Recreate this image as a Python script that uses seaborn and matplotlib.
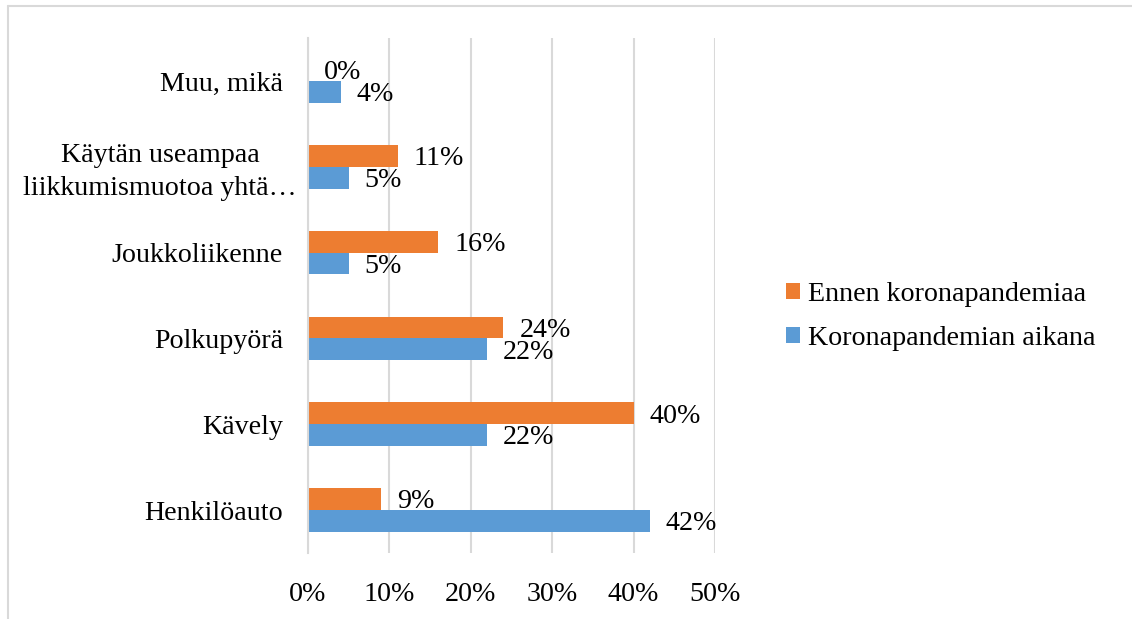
import numpy as np
import pandas as pd
import matplotlib
matplotlib.use("Agg")
import matplotlib.pyplot as plt
import matplotlib.transforms as mtransforms
from matplotlib.patches import Patch
from matplotlib.lines import Line2D
import seaborn as sns

# Kulkumuodot ja osuudet (%)
kategoriat = [
    "Muu, mikä",
    "Käytän useampaa\nliikkumismuotoa yhtä…",
    "Joukkoliikenne",
    "Polkupyörä",
    "Kävely",
    "Henkilöauto",
]
sarjat = ["Ennen koronapandemiaa", "Koronapandemian aikana"]
ennen = [0, 11, 16, 24, 40, 9]
aikana = [4, 5, 5, 22, 22, 42]
x_tikit = [0, 10, 20, 30, 40, 50]
varit = ["#ED7D31", "#5B9BD5"]

df = pd.DataFrame({
    "kategoria": kategoriat * 2,
    "osuus": ennen + aikana,
    "ajankohta": [sarjat[0]] * len(kategoriat) + [sarjat[1]] * len(kategoriat),
})

FS = 20.2

sns.set_theme(style="white")
plt.rcParams["font.family"] = ["Liberation Serif", "DejaVu Serif"]
plt.rcParams["font.size"] = FS
plt.rcParams["text.color"] = "black"
plt.rcParams["xtick.labelcolor"] = "black"
plt.rcParams["ytick.labelcolor"] = "black"

fig = plt.figure(figsize=(11.32, 6.19), dpi=100)
ax = fig.add_axes([308 / 1132, 1 - 553 / 619, (715 - 308) / 1132, (553 - 38) / 619])

sns.barplot(
    data=df, y="kategoria", x="osuus", hue="ajankohta",
    order=kategoriat, hue_order=sarjat, palette=varit,
    orient="h", width=0.51, saturation=1, ax=ax, legend=False,
    linewidth=0,
)

for cont in ax.containers:
    teksti = ax.bar_label(cont, fmt="{:.0f}%", padding=11.5, fontsize=FS, color="black")
    for t in teksti:
        t.xyann = (11.5, -2)

ax.set_xlim(0, 50)
ax.set_ylim(len(kategoriat) - 0.5, -0.5)
ax.set_xticks(x_tikit)
ax.set_xticklabels([f"{t}%" for t in x_tikit])
ax.set_xlabel("")
ax.set_ylabel("")

ax.grid(axis="x", color="#D9D9D9", linewidth=1.5)
ax.grid(axis="y", visible=False)
ax.set_axisbelow(True)

for s in ["top", "right", "bottom"]:
    ax.spines[s].set_visible(False)
ax.spines["left"].set_color("#D9D9D9")
ax.spines["left"].set_linewidth(1.5)

ax.tick_params(axis="x", length=0, pad=21, labelsize=FS, labelcolor="black")
ax.tick_params(axis="y", which="major", length=0, pad=18, labelsize=FS, labelcolor="black")
ax.set_yticks(np.arange(-0.5, len(kategoriat), 1.0), minor=True)
ax.tick_params(axis="y", which="minor", length=5, width=1.5, color="#D9D9D9")
for lab in ax.get_yticklabels():
    lab.set_multialignment("center")
    lab.set_linespacing(1.42)
    if "\n" in lab.get_text():
        # kaksirivinen nimi hieman oikealle, ellipsi lähes akselille asti
        lab.set_transform(lab.get_transform() +
                          mtransforms.ScaledTranslation(14 / 100, 2 / 100, fig.dpi_scale_trans))

handles = [Patch(facecolor=c, edgecolor="none") for c in varit]
ax.legend(
    handles, sarjat, loc="center left",
    bbox_to_anchor=(786 / 1132, 1 - 316.5 / 619), bbox_transform=fig.transFigure,
    frameon=False, fontsize=FS, handlelength=0.5, handleheight=0.5,
    handletextpad=0.3, labelspacing=0.7, borderpad=0, borderaxespad=0,
)

# Kuvion reunaviivat (ylä ja vasen)
fig.add_artist(Line2D([8 / 1132, 8 / 1132], [0, 1 - 6 / 619],
                      transform=fig.transFigure, color="#D9D9D9", lw=1.5))
fig.add_artist(Line2D([8 / 1132, 1], [1 - 6 / 619, 1 - 6 / 619],
                      transform=fig.transFigure, color="#D9D9D9", lw=1.5))

fig.savefig("out.png", dpi=100, facecolor="white")
